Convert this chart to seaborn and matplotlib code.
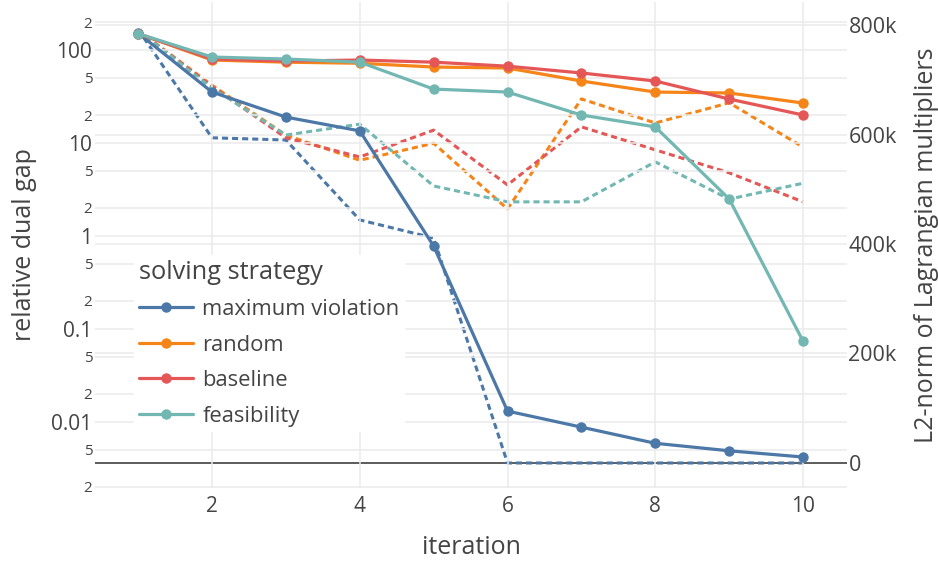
import numpy as np
import pandas as pd
import matplotlib
matplotlib.use("Agg")
import matplotlib.pyplot as plt
import matplotlib.ticker as mticker
from matplotlib.lines import Line2D
import seaborn as sns

# data
iterations = [1, 2, 3, 4, 5, 6, 7, 8, 9, 10]
strategies = ["maximum violation", "random", "baseline", "feasibility"]

# relative dual gap (left, log axis)
gap_max_violation = [152, 35.3, 19.0, 13.5, 0.78, 0.0131, 0.0088, 0.0059, 0.0049, 0.0042]
gap_random = [150, 78, 74, 72, 65.6, 64, 46.4, 35.3, 34.5, 26.9]
gap_baseline = [150, 80, 76, 78, 74, 67, 56.6, 46.4, 29.7, 20]
gap_feasibility = [150, 84, 80, 74, 38, 35.3, 20, 14.9, 2.5, 0.074]

# L2-norm of Lagrangian multipliers (right axis)
l2_max_violation = [792000, 594000, 590000, 444000, 411000, 0, 0, 0, 0, 0]
l2_random = [790000, 690000, 599000, 553000, 584000, 464000, 665000, 621000, 658000, 577000]
l2_baseline = [790000, 688000, 594000, 559000, 608000, 508000, 614000, 572000, 530000, 477000]
l2_feasibility = [790000, 685000, 599000, 619000, 506000, 477000, 477000, 550000, 482000, 511000]

colors = ["#4c78a8", "#f58518", "#e45756", "#72b7b2"]
palette = dict(zip(strategies, colors))

gap_df = pd.DataFrame({
    "iteration": iterations * 4,
    "gap": gap_max_violation + gap_random + gap_baseline + gap_feasibility,
    "strategy": np.repeat(strategies, len(iterations)),
})
l2_df = pd.DataFrame({
    "iteration": iterations * 4,
    "l2": l2_max_violation + l2_random + l2_baseline + l2_feasibility,
    "strategy": np.repeat(strategies, len(iterations)),
})

sns.set_theme(style="white")
plt.rcParams["font.family"] = ["Open Sans", "DejaVu Sans"]
text_col = "#444444"
grid_col = "#ebebeb"

fig = plt.figure(figsize=(9.38, 5.63), dpi=100)
ax = fig.add_axes([0.1013, 0.1332, 0.8017, 0.8632])
ax2 = ax.twinx()
ax.set_zorder(ax2.get_zorder() + 1)
ax.patch.set_visible(False)

# dashed lines: L2-norm on the right axis
sns.lineplot(data=l2_df, x="iteration", y="l2", hue="strategy", palette=palette,
             hue_order=strategies, ax=ax2, legend=False, linewidth=2.2,
             linestyle=(0, (2, 1.3)))
ax2.axhline(0, color=text_col, linewidth=1.2, zorder=1)

# solid lines: relative dual gap on the left axis
sns.lineplot(data=gap_df, x="iteration", y="gap", hue="strategy", palette=palette,
             hue_order=strategies, ax=ax, legend=False, linewidth=2.3,
             marker="o", markersize=7.5, markeredgewidth=0)

ax.set_yscale("log")
ax.set_xlim(0.417, 10.595)
ax.set_ylim(0.00195, 328)
ax2.set_ylim(-45700, 842000)

ax.xaxis.set_major_locator(mticker.FixedLocator([2, 4, 6, 8, 10]))
ax.yaxis.set_major_locator(mticker.LogLocator(base=10, numticks=20))
ax.yaxis.set_minor_locator(mticker.LogLocator(base=10, subs=(2, 5), numticks=20))
ax.yaxis.set_major_formatter(mticker.FuncFormatter(lambda v, p: "{:g}".format(v)))
ax.yaxis.set_minor_formatter(mticker.FuncFormatter(
    lambda v, p: str(int(round(v / 10 ** np.floor(np.log10(v) + 1e-9))))))
ax2.yaxis.set_major_locator(mticker.FixedLocator([0, 200000, 400000, 600000, 800000]))
ax2.yaxis.set_major_formatter(mticker.FuncFormatter(
    lambda v, p: "0" if v == 0 else "{:d}k".format(int(v / 1000))))

ax.grid(True, which="both", axis="y", color=grid_col, linewidth=1.1)
ax.grid(True, which="major", axis="x", color=grid_col, linewidth=1.1)
ax2.grid(True, axis="y", color=grid_col, linewidth=1.1)
ax.set_axisbelow(True)

for a in (ax, ax2):
    for s in a.spines.values():
        s.set_visible(False)

ax.tick_params(axis="x", which="both", length=0, pad=6, labelsize=15, labelcolor=text_col)
ax.tick_params(axis="y", which="major", length=0, pad=2, labelsize=15, labelcolor=text_col)
ax.tick_params(axis="y", which="minor", length=0, pad=2, labelsize=11, labelcolor=text_col)
ax2.tick_params(axis="y", length=0, pad=1, labelsize=15.5, labelcolor=text_col)

ax.set_xlabel("iteration", fontsize=18, color=text_col, labelpad=13)
ax.set_ylabel("relative dual gap", fontsize=18, color=text_col, labelpad=10)
ax2.set_ylabel("L2-norm of Lagrangian multipliers", fontsize=18, color=text_col, labelpad=12)

handles = [Line2D([0], [0], color=c, linewidth=2.3, marker="o", markersize=7.5,
                  markeredgewidth=0) for c in colors]
leg = ax.legend(handles, strategies, title="solving strategy", loc="upper left",
                bbox_to_anchor=(0.052, 0.479), frameon=True, fontsize=15.8,
                title_fontsize=18.3, handlelength=2.5, handletextpad=0.4,
                labelspacing=0.66, borderpad=0.2, borderaxespad=0)
leg.get_frame().set_facecolor("white")
leg.get_frame().set_edgecolor("white")
leg.get_frame().set_alpha(1)
leg._legend_box.align = "left"
for t in leg.get_texts():
    t.set_color(text_col)
leg.get_title().set_color(text_col)

fig.savefig("out.png", dpi=100, facecolor="white")
